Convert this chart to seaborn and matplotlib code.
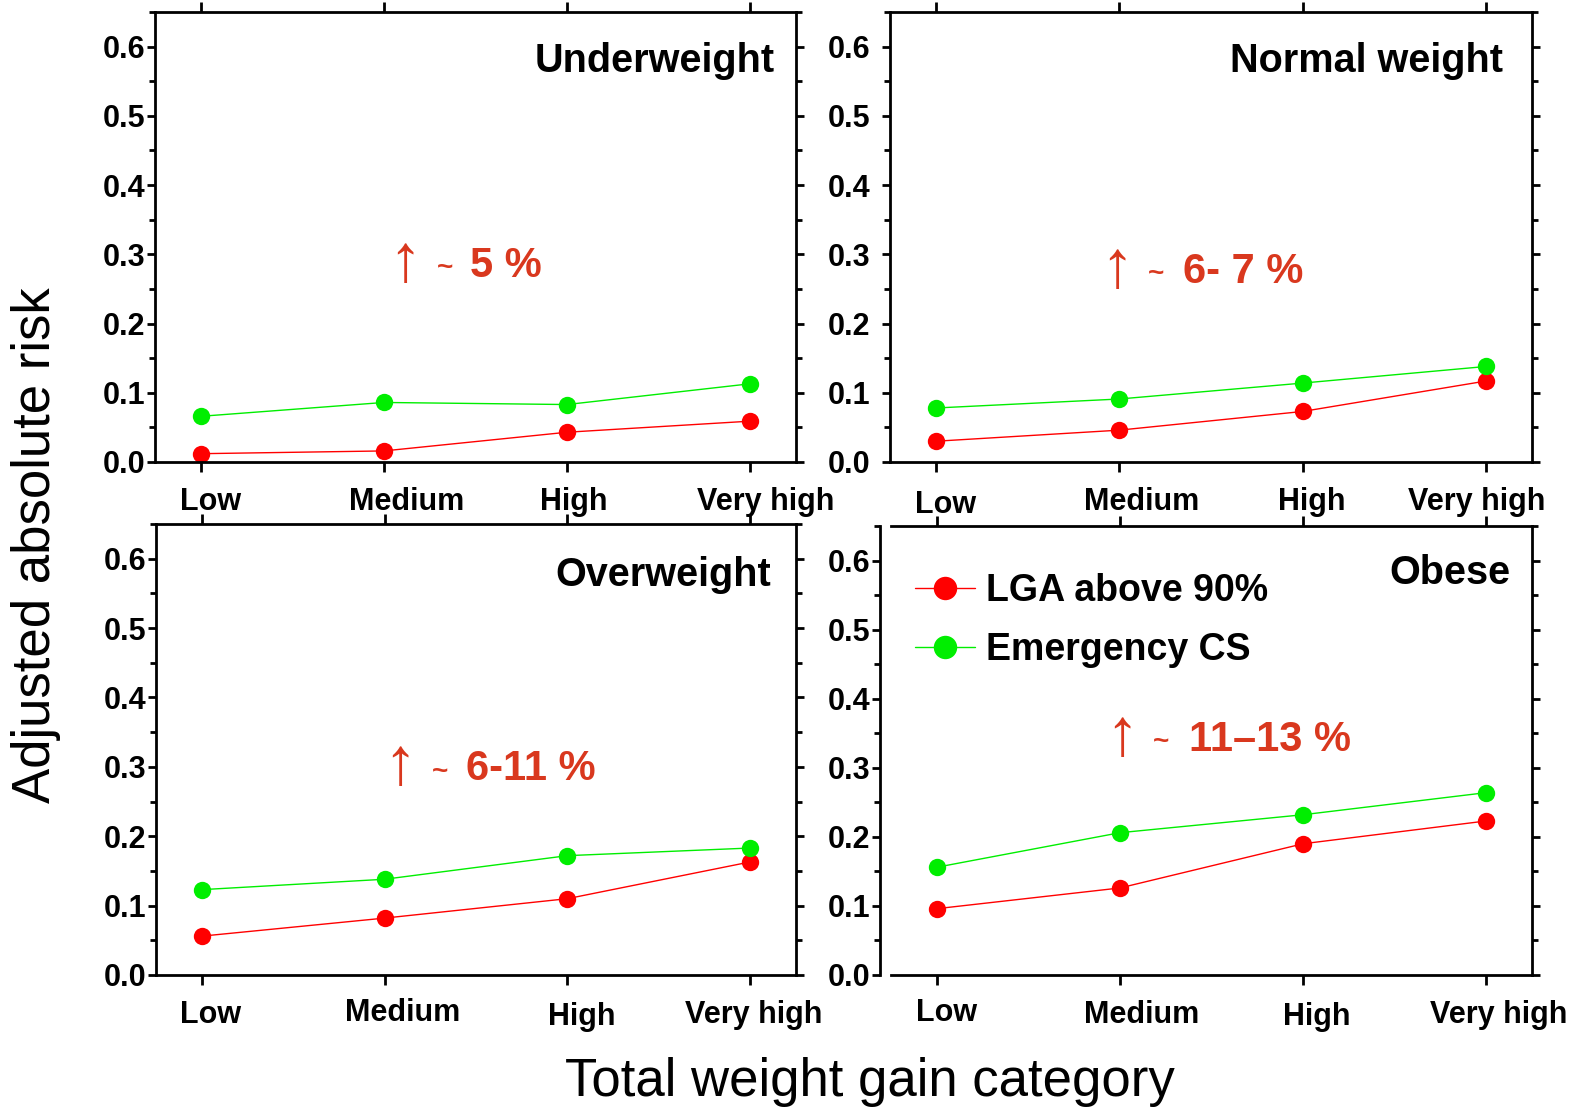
import numpy as np
import pandas as pd
import matplotlib
matplotlib.use("Agg")
import matplotlib.pyplot as plt
import matplotlib.transforms as mtransforms
from matplotlib.ticker import MultipleLocator
import seaborn as sns

# ---- data -------------------------------------------------------------
categories = ["Low", "Medium", "High", "Very high"]
panels = ["Underweight", "Normal weight", "Overweight", "Obese"]
outcomes = ["LGA above 90%", "Emergency CS"]

lga_underweight = [0.012, 0.016, 0.043, 0.059]
cs_underweight = [0.066, 0.086, 0.083, 0.113]
lga_normal = [0.030, 0.046, 0.073, 0.117]
cs_normal = [0.078, 0.091, 0.114, 0.138]
lga_overweight = [0.056, 0.082, 0.110, 0.163]
cs_overweight = [0.123, 0.138, 0.172, 0.183]
lga_obese = [0.096, 0.126, 0.190, 0.223]
cs_obese = [0.156, 0.206, 0.232, 0.264]

increase_labels = ["5 %", "6- 7 %", "6-11 %", "11\u201313 %"]

series = {
    "Underweight": (lga_underweight, cs_underweight),
    "Normal weight": (lga_normal, cs_normal),
    "Overweight": (lga_overweight, cs_overweight),
    "Obese": (lga_obese, cs_obese),
}

rows = []
for panel in panels:
    for outcome, vals in zip(outcomes, series[panel]):
        for i, (cat, v) in enumerate(zip(categories, vals)):
            rows.append({"panel": panel, "outcome": outcome,
                         "category": cat, "pos": i, "risk": v})
df = pd.DataFrame(rows)

# ---- style ------------------------------------------------------------
sns.set_theme(style="ticks")
plt.rcParams["font.family"] = ["Liberation Sans", "DejaVu Sans"]
plt.rcParams["text.color"] = "black"
plt.rcParams["axes.labelcolor"] = "black"
plt.rcParams["xtick.color"] = "black"
plt.rcParams["ytick.color"] = "black"

palette = {"LGA above 90%": "#ff0000", "Emergency CS": "#00ee00"}
accent = "#d9381e"

W, H = 1574, 1111
fig = plt.figure(figsize=(W / 100, H / 100), dpi=100)

# axes boxes in pixels: left, right, top, bottom
boxes = {
    "Underweight": (155, 796, 12, 462),
    "Normal weight": (890, 1532, 12, 462),
    "Overweight": (156, 796, 524, 975),
    "Obese": (891, 1532, 526, 975),
}
ytick_pad = {"Underweight": 1, "Normal weight": 8,
             "Overweight": 1, "Obese": 1}

# fine shifts (px) of the category labels
label_shift = {
    "Underweight": [(10, 0), (23, 0), (7, 0), (15, 0)],
    "Normal weight": [(10, 3), (22, 0), (9, 0), (-9, 0)],
    "Overweight": [(9, 0), (18, -2), (14, 2), (3, 0)],
    "Obese": [(10, -2), (22, 0), (14, 2), (12, 0)],
}

# annotation placement (axes fraction): arrow x, tilde x, number x, y
note_pos = {
    "Underweight": (0.390, 0.440, 0.491, 0.440),
    "Normal weight": (0.354, 0.402, 0.456, 0.427),
    "Overweight": (0.381, 0.431, 0.484, 0.461),
    "Obese": (0.360, 0.409, 0.465, 0.528),
}
title_pos = {
    "Underweight": (0.967, 0.867),
    "Normal weight": (0.955, 0.867),
    "Overweight": (0.961, 0.863),
    "Obese": (0.966, 0.871),
}

for k, panel in enumerate(panels):
    l, r, t, b = boxes[panel]
    ax = fig.add_axes([l / W, 1 - b / H, (r - l) / W, (b - t) / H])
    sub = df[df["panel"] == panel]
    sns.lineplot(data=sub, x="pos", y="risk", hue="outcome",
                 hue_order=outcomes, palette=palette, marker="o",
                 markersize=12.5, markeredgewidth=0, linewidth=1.0,
                 sort=False, legend=False, ax=ax)

    ax.set_xlim(-0.25, 3.25)
    ax.set_ylim(0, 0.65)
    ax.set_xlabel("")
    ax.set_ylabel("")

    for side in ["left", "right", "top", "bottom"]:
        ax.spines[side].set_visible(True)
        ax.spines[side].set_linewidth(2.0)
        ax.spines[side].set_color("black")
    if panel == "Obese":
        ax.spines["left"].set_position(("outward", 8))

    ax.yaxis.set_major_locator(MultipleLocator(0.1))
    ax.yaxis.set_minor_locator(MultipleLocator(0.05))
    ax.set_yticks(np.arange(0, 0.61, 0.1))
    ax.set_yticklabels([f"{v:.1f}" for v in np.arange(0, 0.61, 0.1)],
                       fontsize=22, fontweight="bold")
    ax.tick_params(axis="y", which="major", direction="out", length=6,
                   width=2.0, left=True, right=True, pad=ytick_pad[panel],
                   colors="black")
    ax.tick_params(axis="y", which="minor", direction="out", length=4,
                   width=2.0, left=True, right=True)

    ax.set_xticks(range(len(categories)))
    ax.set_xticklabels(categories, fontsize=22, fontweight="bold")
    ax.tick_params(axis="x", which="major", direction="out", length=7,
                   width=2.0, top=True, bottom=True, pad=11, colors="black")
    for lab, (dx, dy) in zip(ax.get_xticklabels(), label_shift[panel]):
        off = mtransforms.ScaledTranslation(dx / 100, -dy / 100,
                                            fig.dpi_scale_trans)
        lab.set_transform(lab.get_transform() + off)

    tx, ty = title_pos[panel]
    ax.text(tx, ty, panel, transform=ax.transAxes, ha="right",
            va="baseline", fontsize=28.5, fontweight="bold", color="black")

    ax_x, tl_x, num_x, ny = note_pos[panel]
    ax.text(ax_x, ny, "\u2191", transform=ax.transAxes, ha="center",
            va="center", fontsize=48, color=accent)
    ax.text(tl_x, ny - 0.01, "~", transform=ax.transAxes, ha="left",
            va="center", fontsize=20, fontweight="bold", color=accent)
    ax.text(num_x, ny - 0.005, increase_labels[k], transform=ax.transAxes,
            ha="left", va="center", fontsize=30, fontweight="bold",
            color=accent)

    if panel == "Obese":
        ax.legend(handles=ax.lines[:2], labels=outcomes, loc="upper left",
                  bbox_to_anchor=(0.037, 0.895), frameon=False,
                  prop={"size": 27, "weight": "bold"}, handlelength=1.6,
                  handletextpad=0.3, labelspacing=0.6, borderpad=0,
                  borderaxespad=0, markerscale=1.35)

fig.text(870 / W, 1 - 1096 / H, "Total weight gain category",
         ha="center", va="baseline", fontsize=38, color="black")
fig.text(36 / W, 1 - 545 / H, "Adjusted absolute risk", rotation=90,
         ha="center", va="center", fontsize=38, color="black")

fig.savefig("out.png", dpi=100)
